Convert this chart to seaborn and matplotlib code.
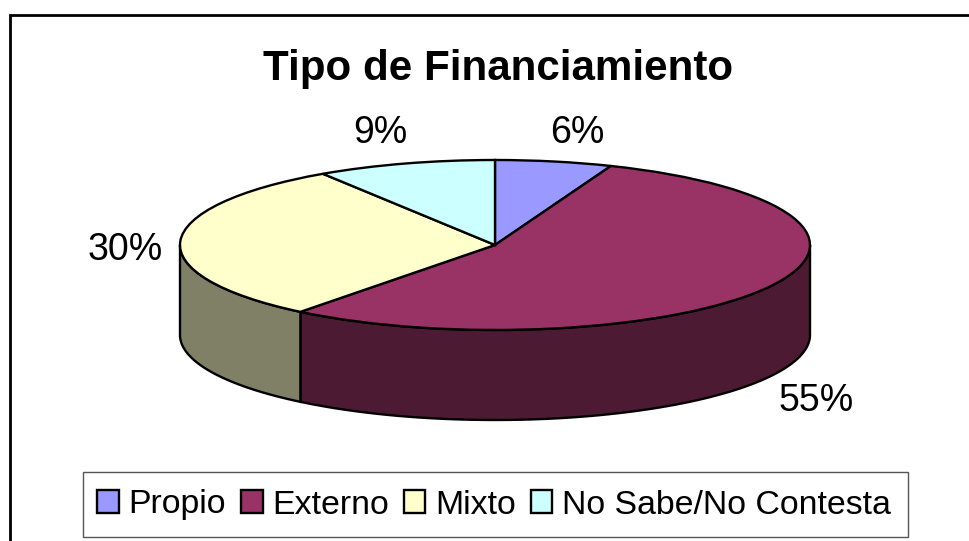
import numpy as np
import matplotlib
matplotlib.use("Agg")
import matplotlib.pyplot as plt
from matplotlib.patches import Patch, Rectangle
import seaborn as sns

categorias = ["Propio", "Externo", "Mixto", "No Sabe/No Contesta"]
valores = [6.0, 54.6, 30.2, 9.2]
colores = ["#9999FF", "#993366", "#FFFFCC", "#CCFFFF"]
colores_lado = ["#4D4D80", "#4D1A33", "#808066", "#668080"]
titulo = "Tipo de Financiamiento"

W, H = 970, 541
cx, cy, rx, ry, alto = 495, 245, 315, 85, 90

sns.set_theme(style="white")
plt.rcParams["font.family"] = ["Liberation Sans", "DejaVu Sans"]

fig = plt.figure(figsize=(W / 100, H / 100), dpi=100, facecolor="white")

# fondo en pixeles para el marco, titulo y etiquetas
bg = fig.add_axes([0, 0, 1, 1])
bg.set_xlim(0, W)
bg.set_ylim(H, 0)
bg.axis("off")
bg.plot([10, 10, W], [H, 15, 15], color="black", lw=2.0, solid_joinstyle="miter")
bg.text(498, 69, titulo, fontsize=30.3, fontweight="bold", ha="center", va="center", color="black")

# el pie se achata dejando el aspect en auto
ax = fig.add_axes([(cx - 1.25 * rx) / W, 1 - (cy + 1.25 * ry) / H, 2.5 * rx / W, 2.5 * ry / H])
wedges, _ = ax.pie(
    valores,
    colors=colores,
    startangle=90,
    counterclock=False,
    wedgeprops={"edgecolor": "black", "linewidth": 1.7, "zorder": 3},
)
ax.set_aspect("auto")
ax.set_xlim(-1.25, 1.25)
ax.set_ylim(-1.25, 1.25)

# pared lateral, solo la mitad de abajo se ve
prof = alto / ry
acum = 90 - np.cumsum([0] + valores) * 3.6
for i in range(len(valores)):
    a1, a2 = acum[i + 1], acum[i]
    lo, hi = max(a1, -180), min(a2, 0)
    if lo >= hi:
        continue
    t = np.radians(np.linspace(lo, hi, 80))
    xs = np.cos(t)
    ys = np.sin(t)
    ax.fill(
        np.r_[xs, xs[::-1]],
        np.r_[ys, ys[::-1] - prof],
        facecolor=colores_lado[i],
        edgecolor="black",
        linewidth=1.7,
        zorder=2,
        clip_on=False,
    )

etiquetas = [f"{v:.0f}%" for v in valores]
pos_etiquetas = [(577, 133), (816, 401), (125, 250), (380, 133)]
for txt, (px, py) in zip(etiquetas, pos_etiquetas):
    bg.text(px, py, txt, fontsize=27, ha="center", va="center", color="black")

# caja de la leyenda aparte, es mas alta que lo que da borderpad
bg.add_patch(Rectangle((83, 472), 825, 65, facecolor="white", edgecolor="#555555", linewidth=1.0))
handles = [Patch(facecolor=c, edgecolor="black", linewidth=1.7) for c in colores]
leg = bg.legend(
    handles,
    categorias,
    ncol=4,
    loc="center",
    bbox_to_anchor=(494, 505),
    bbox_transform=bg.transData,
    fontsize=24.4,
    labelcolor="black",
    frameon=False,
    handlelength=0.64,
    handleheight=0.64,
    handletextpad=0.28,
    columnspacing=0.44,
    borderpad=0,
    borderaxespad=0,
)

fig.savefig("out.png", dpi=100)
